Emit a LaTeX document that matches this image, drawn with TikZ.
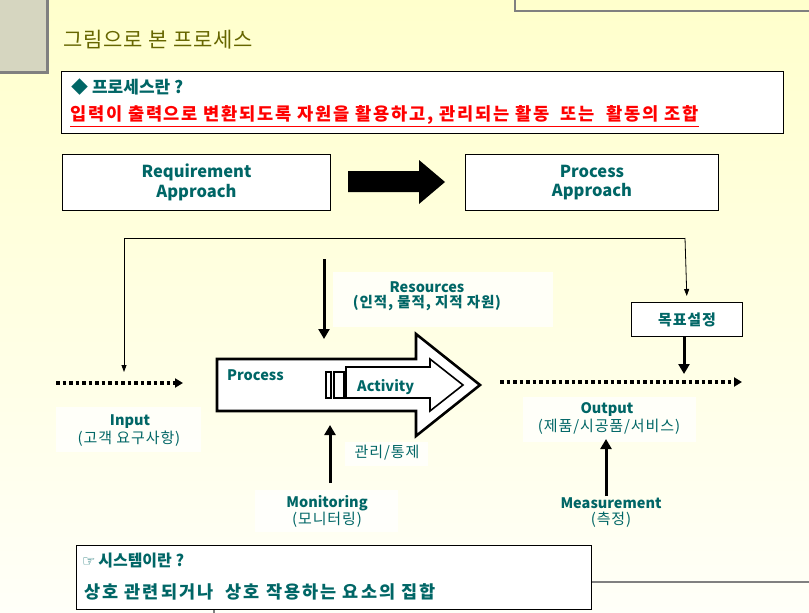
\documentclass[tikz,border=0pt]{standalone}
\usepackage{fontspec}
\setmainfont{Noto Sans CJK KR}
\newfontfamily\krfont{Noto Sans CJK KR}
\newfontfamily\symfont{DejaVu Sans}
\usetikzlibrary{arrows.meta}
\definecolor{bgtop}{RGB}{255,255,204}
\definecolor{bgbot}{RGB}{255,255,248}
\definecolor{teal}{RGB}{0,102,102}
\definecolor{olive}{RGB}{102,102,0}
\definecolor{decogray}{RGB}{128,128,128}
\definecolor{decofill}{RGB}{214,214,192}
\newcommand{\fs}[1]{\fontsize{#1}{#1}\selectfont}
\newcommand{\ls}[1]{\addfontfeature{LetterSpace=#1}}
\tikzset{
  box/.style={draw=black, line width=1pt, fill=white, inner sep=0pt, anchor=north west},
  lbl/.style={text=teal, font=\fs{14.5}\bfseries, align=center, inner sep=0pt},
  lblk/.style={text=teal, font=\fs{14.5}\bfseries\ls{6}, align=center, inner sep=0pt},
  lblr/.style={text=teal, font=\fs{15}\ls{6}, align=center, inner sep=0pt},
  big/.style={text=teal, font=\fs{16.5}\bfseries, align=center, inner sep=0pt},
  thickarr/.style={line width=3pt, -{Triangle[length=10pt,width=11pt]}},
  thinarr/.style={line width=0.8pt, -{Triangle[length=7pt,width=5pt]}},
  dotarr/.style={line width=3.5pt, dash pattern=on 3.5pt off 3pt, -{Triangle[length=8pt,width=9pt]}},
  labbg/.style={fill=white, draw=none, opacity=0.75}
}
\begin{document}
\begin{tikzpicture}[x=1pt,y=-1pt]
\useasboundingbox (0,0) rectangle (809,613);
\shade[top color=bgtop, bottom color=bgbot] (0,0) rectangle (809,613);
% decorations
\fill[decofill] (0,0) rectangle (47,72);
\draw[decogray, line width=3pt] (47,0) -- (47,72) -- (0,72);
\draw[decogray, line width=2.5pt] (515,0) -- (515,11) -- (809,11);
% title
\node[text=olive, font=\fs{21}\ls{4}, anchor=west, inner sep=0pt] (title) at (63,40) {그림으로 본 프로세스};
% definition box
\node[box, minimum width=722pt, minimum height=62pt] (defbox) at (61,71) {};
\node[text=teal, font=\fs{17}\bfseries, anchor=west, inner sep=0pt] (defq) at (71,87) {◆ 프로세스란 ?};
\node[text=red, font=\fs{17.6}\bfseries\ls{10}, anchor=west, inner sep=0pt] (defa) at (70,116) {\underline{입력이 출력으로 변환되도록 자원을 활용하고, 관리되는 활동~~또는~~활동의 조합}};
% approach boxes
\node[box, minimum width=268pt, minimum height=56pt] (req) at (62,154) {};
\node[big] (reqt) at (req.center) {Requirement\\[3pt]Approach};
\node[box, minimum width=253pt, minimum height=56pt] (proc) at (465,154) {};
\node[big] (proct) at (proc.center) {Process\\[3pt]Approach};
\fill[black] (348,171) -- (419,171) -- (419,160) -- (445,182) -- (419,204) -- (419,192) -- (348,192) -- cycle;
% label backgrounds
\fill[labbg] (333,272) rectangle (553,327);
\fill[labbg] (56,407) rectangle (201,452);
\fill[labbg] (523,397) rectangle (696,442);
\fill[labbg] (345,442) rectangle (428,466);
\fill[labbg] (255,490) rectangle (398,532);
% goal box
\node[box, minimum width=111pt, minimum height=34pt] (goal) at (631,302) {};
\node[text=teal, font=\fs{15}\bfseries\ls{6}, inner sep=0pt] (goalt) at (goal.center) {목표설정};
% feedback connector
\coordinate (fbL) at (124,238);
\coordinate (fbR) at (685,238);
\coordinate (fbLend) at (124,372);
\draw[line width=0.8pt] (fbL) -- (fbR);
\draw[thinarr] (fbL) -- (fbLend);
\draw[thinarr, shorten >=6pt] (fbR) -- (goal.north);
% process big hollow arrow
\draw[line width=2.6pt, fill=white, line join=miter] (217,359) -- (416,359) -- (416,334) -- (480,385) -- (416,436) -- (416,411) -- (217,411) -- cycle;
\draw[line width=1.6pt, fill=white, line join=miter] (346,367) -- (430,367) -- (430,359) -- (463,385) -- (430,411) -- (430,398) -- (346,398) -- cycle;
\draw[line width=1.4pt, fill=white] (326,372) rectangle (331,398);
\draw[line width=1.4pt, fill=white] (334,372) rectangle (344,398);
\node[lbl, anchor=west] (proclbl) at (227,375) {Process};
\node[lbl, anchor=west] (act) at (357,387) {Activity};
% resources
\coordinate (resTop) at (324,259);
\coordinate (resEnd) at (324,339);
\draw[thickarr] (resTop) -- (resEnd);
\node[lbl] (res) at (427,287) {Resources};
\node[lblk] (res2) at (427,303) {(인적, 물적, 지적 자원)};
% input
\coordinate (inS) at (56,383);
\coordinate (inE) at (183,383);
\draw[dotarr] (inS) -- (inE);
\node[lbl] (inl) at (130,422) {Input};
\node[lblr] (inl2) at (129,439) {(고객 요구사항)};
% output
\coordinate (outS) at (500,382);
\coordinate (outE) at (742,382);
\draw[dotarr] (outS) -- (outE);
\node[lbl] (outl) at (607,410) {Output};
\node[lblr] (outl2) at (609,427) {(제품/시공품/서비스)};
% goal to output
\coordinate (goalEnd) at (684,374);
\draw[thickarr] (goal.south -| goalEnd) -- (goalEnd);
% monitoring
\coordinate (monS) at (330,483);
\coordinate (monE) at (330,425);
\draw[thickarr] (monS) -- (monE);
\node[lblr] (ctrl) at (387,453) {관리/통제};
\node[lbl] (mon) at (327,503) {Monitoring};
\node[lblr] (mon2) at (327,520) {(모니터링)};
% measurement
\coordinate (meaS) at (606,496);
\coordinate (meaE) at (606,439);
\draw[thickarr] (meaS) -- (meaE);
\node[lbl] (mea) at (611,503) {Measurement};
\node[lblr] (mea2) at (611,520) {(측정)};
% system box
\draw[decogray, line width=2.5pt] (591,582) -- (809,582);
\draw[decogray, line width=1.5pt] (214,600) -- (214,613);
\node[box, minimum width=515pt, minimum height=64pt] (sys) at (76,545) {};
\node[text=teal, font=\fs{16}\bfseries, anchor=west, inner sep=0pt] (sysq) at (82,561) {{\symfont\fs{15}☞}\,시스템이란 ?};
\node[text=teal, font=\fs{17.5}\bfseries\ls{12}, anchor=west, inner sep=0pt] (sysa) at (84,592) {상호 관련되거나~~상호 작용하는 요소의 집합};
\end{tikzpicture}
\end{document}
